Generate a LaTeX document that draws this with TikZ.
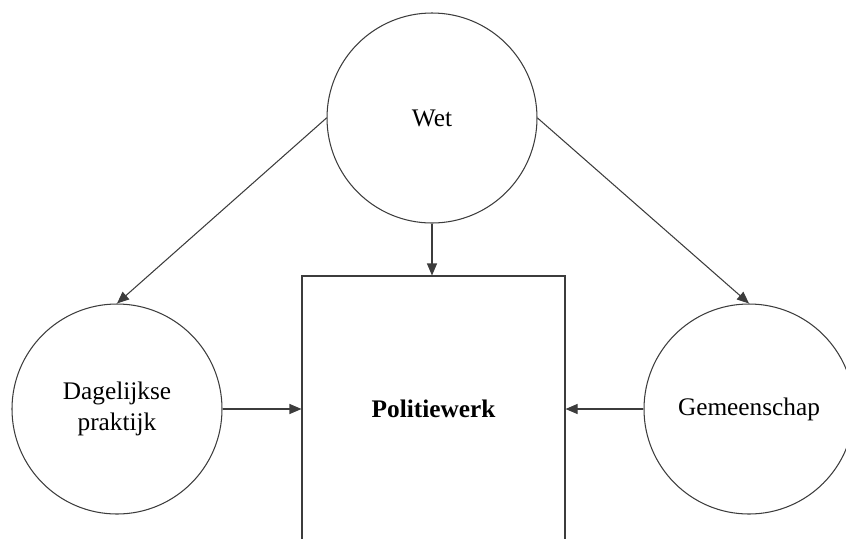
\documentclass[tikz,border=0pt]{standalone}
\usepackage{fontspec}
\setmainfont{Liberation Serif}
\usetikzlibrary{
		positioning,
		arrows.meta
	}
\tikzset{
		>={Triangle[length=2.4mm,width=2mm]}
	}
\definecolor{linegray}{RGB}{60, 60, 60}

\begin{document}
\begin{tikzpicture}
		[node distance=5.82cm,on grid,
		linegray, line width=0.6pt,
		factor/.style= {circle, draw=linegray, minimum size=4.2cm, inner sep=0pt, text=black, align=center, font=\fontsize{14.4}{18}\selectfont},
		work/.style= {rectangle, draw=linegray, minimum width=5.26cm, minimum height=5.32cm, text=black, font=\fontsize{14.4}{18}\selectfont\bfseries}
		]

		\useasboundingbox (0,0) rectangle (16.92,-10.76);
		\clip (0,0) rectangle (16.92,-10.76);

		\node [factor] (Wet) at (8.64,-2.36) {Wet};

		\node [work] (Politie) [below=of Wet, xshift=0.03cm] {Politiewerk};
		\node [factor] (Praktijk) [below left=5.82cm and 6.3cm of Wet] {Dagelijkse\\praktijk};
		\node [factor] (Gemeen) [below right=5.82cm and 6.34cm of Wet] {Gemeenschap};

		\draw [->] (Wet.south) -- (Wet.south |- Politie.north);
		\draw [->] (Wet.west) -- (Praktijk.north);
		\draw [->] (Wet.east) -- (Gemeen.north);
		\draw [->] (Praktijk.east) -- (Politie.west);
		\draw [->] (Gemeen.west) -- (Politie.east);

	\end{tikzpicture}
\end{document}
